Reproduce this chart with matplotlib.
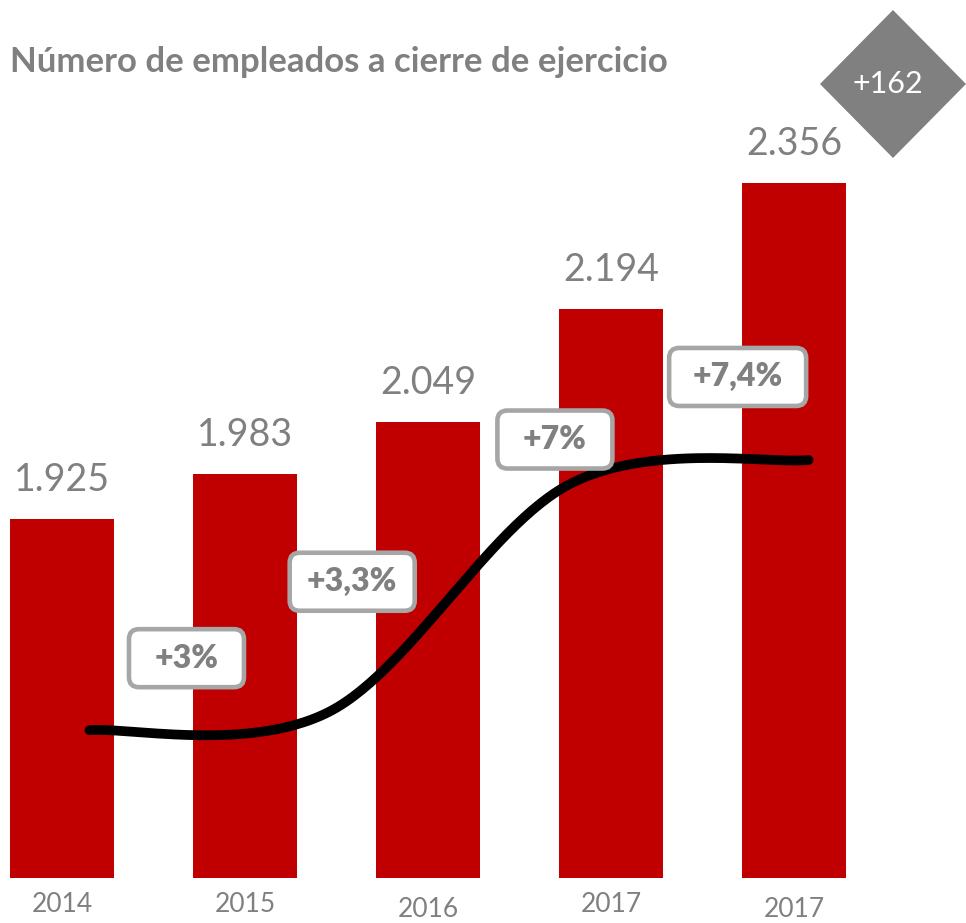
import numpy as np
import matplotlib
matplotlib.use('Agg')
import matplotlib.pyplot as plt
from matplotlib.patches import FancyBboxPatch, Polygon

# --- datos ---
years = ['2014', '2015', '2016', '2017', '2017']
empleados = [1925, 1983, 2049, 2194, 2356]
crecimiento = [3.0, 3.3, 7.0, 7.4]
crec_labels = ['+3%', '+3,3%', '+7%', '+7,4%']
delta_label = '+162'
titulo = 'Número de empleados a cierre de ejercicio'

# --- estilo / posiciones ---
W, H = 966, 923
plt.rcParams['font.family'] = ['Lato', 'DejaVu Sans']
GRAY = '#808080'
RED = '#C00000'
xlim = (-0.339, 4.94)
base = 1464
ylim = (1406, 2591)
ylim2 = (-0.14, 14.89)
line_x = np.linspace(0.15, 4.08, len(crecimiento))
# desplazamiento de las cajas (px) respecto al punto de la curva, y tamaño
box_off = [(97, -72), (23, -130), (-14, -45), (-71, -83)]
box_w = [115, 125, 115, 137]
box_h = 58
year_off = [27, 27, 32, 27, 32]

fig = plt.figure(figsize=(W / 100, H / 100), dpi=100)
ax = fig.add_axes([0, 0, 1, 1])
ax.set_xlim(*xlim)
ax.set_ylim(*ylim)
ax.axis('off')

x = np.arange(len(empleados))
vals = np.array(empleados)
ax.bar(x, vals - base, bottom=base, width=0.57, color=RED, zorder=1)

for xi, v in zip(x, empleados):
    ax.annotate(f'{v:,}'.replace(',', '.'), (xi, v), xytext=(0, 15),
                textcoords='offset points', ha='center', va='bottom',
                fontsize=27, color=GRAY)

for xi, lab, off in zip(x, years, year_off):
    ax.annotate(lab, (xi, base), xytext=(0, -off * 0.72),
                textcoords='offset points', ha='center', va='center',
                fontsize=19, color=GRAY)

# --- curva de crecimiento (suavizada tipo Excel) ---
ax2 = ax.twinx()
ax2.set_ylim(*ylim2)
ax2.axis('off')

P = np.column_stack([line_x, crecimiento])
Pext = np.vstack([P[0], P, P[-1]])
t = np.linspace(0, 1, 60)[:, None]
curve = []
for i in range(len(P) - 1):
    p0, p1, p2, p3 = Pext[i], Pext[i + 1], Pext[i + 2], Pext[i + 3]
    c1 = p1 + (p2 - p0) / 6
    c2 = p2 - (p3 - p1) / 6
    seg = (1 - t) ** 3 * p1 + 3 * (1 - t) ** 2 * t * c1 + 3 * (1 - t) * t ** 2 * c2 + t ** 3 * p2
    curve.append(seg)
curve = np.vstack(curve)
ax2.plot(curve[:, 0], curve[:, 1], color='black', lw=7, solid_capstyle='round', zorder=3)

pxx = W / (xlim[1] - xlim[0])
pxy = H / (ylim2[1] - ylim2[0])
for lx, g, lab, (dx, dy), bw in zip(line_x, crecimiento, crec_labels, box_off, box_w):
    cx = lx + dx / pxx
    cy = g - dy / pxy
    w = bw / pxx
    h = box_h / pxy
    box = FancyBboxPatch((cx - w / 2, cy - h / 2), w, h,
                         boxstyle='round,pad=0,rounding_size=%f' % (10 / pxx),
                         mutation_aspect=pxx / pxy,
                         facecolor='white', edgecolor='#A6A6A6', lw=3.3, zorder=4)
    ax2.add_patch(box)
    ax2.text(cx, cy, lab, ha='center', va='center', fontsize=23,
             fontweight='heavy', color=GRAY, zorder=5)

# --- título y rombo ---
fig.text(10 / W, 1 - 62 / H, titulo, ha='left', va='center', fontsize=25,
         fontweight='bold', color=GRAY)

dcx, dcy, hw, hh = 893, 84, 73, 74
diamond = Polygon([((dcx) / W, 1 - (dcy - hh) / H), ((dcx + hw) / W, 1 - dcy / H),
                   (dcx / W, 1 - (dcy + hh) / H), ((dcx - hw) / W, 1 - dcy / H)],
                  closed=True, transform=fig.transFigure, facecolor=GRAY, edgecolor='none')
fig.add_artist(diamond)
fig.text(888 / W, 1 - 84 / H, delta_label, ha='center', va='center',
         fontsize=22, color='white')

fig.savefig('out.png', dpi=100)
